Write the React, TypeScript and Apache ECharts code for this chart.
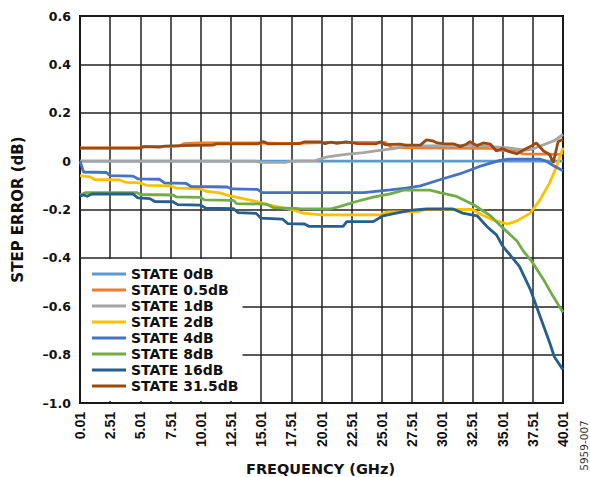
import React, { useEffect, useRef } from "react";
import * as echarts from "echarts";

// Step error vs frequency, one [GHz, dB] list per attenuation state
const STATE_0dB: [number, number][] = [
  [0.01, 0], [10, 0], [20, 0], [30, 0], [40.01, 0],
];
const STATE_05dB: [number, number][] = [
  [0.01, 0.055], [5, 0.055], [5.3, 0.06], [8.2, 0.062], [8.6, 0.072], [10, 0.075],
  [15, 0.075], [17, 0.072], [20, 0.077], [25.3, 0.077], [25.8, 0.056], [30, 0.054],
  [34.2, 0.053], [34.8, 0.045], [36.2, 0.042], [36.7, 0.03], [39.8, 0.028], [40.01, 0.035],
];
const STATE_1dB: [number, number][] = [
  [0.01, 0], [14.5, 0], [15, -0.005], [17, -0.005], [17.5, 0], [19.5, 0.002],
  [20.5, 0.018], [22, 0.028], [23.5, 0.035], [24.5, 0.042], [26, 0.052], [27, 0.062],
  [33, 0.066], [34, 0.06], [35.5, 0.055], [36.8, 0.045], [37.5, 0.05], [38.5, 0.07],
  [39.3, 0.085], [40.01, 0.11],
];
const STATE_2dB: [number, number][] = [
  [0.01, -0.06], [0.8, -0.065], [1.2, -0.076], [3.3, -0.078], [3.8, -0.088], [5, -0.09],
  [5.5, -0.1], [7.5, -0.102], [8, -0.112], [10, -0.115], [10.5, -0.125], [11.5, -0.13],
  [12.5, -0.145], [13.5, -0.155], [14.5, -0.165], [15.5, -0.18], [16.5, -0.19],
  [17.5, -0.2], [18.5, -0.215], [20, -0.222], [24.9, -0.222], [25.5, -0.21], [28, -0.21],
  [28.6, -0.2], [32.5, -0.2], [33.2, -0.22], [34.2, -0.243], [35.4, -0.26], [36.2, -0.247],
  [37.3, -0.215], [38.1, -0.16], [38.9, -0.09], [39.5, -0.02], [40.01, 0.055],
];
const STATE_4dB: [number, number][] = [
  [0.01, 0], [0.3, -0.045], [2.2, -0.047], [2.5, -0.06], [4.4, -0.062], [4.8, -0.073],
  [6.6, -0.075], [7, -0.09], [8.8, -0.092], [9.2, -0.105], [12.2, -0.107], [12.6, -0.115],
  [14.7, -0.117], [15.1, -0.13], [23.5, -0.13], [24.5, -0.125], [25.7, -0.119],
  [27, -0.112], [28.2, -0.102], [29.8, -0.077], [31.5, -0.052], [33.1, -0.022],
  [34.8, 0.003], [35.5, 0.008], [38.1, 0.008], [38.6, 0], [39.2, -0.018], [40.01, -0.04],
];
const STATE_8dB: [number, number][] = [
  [0.01, -0.14], [0.5, -0.13], [4.7, -0.13], [5, -0.138], [7.7, -0.14], [8, -0.148],
  [10, -0.15], [10.3, -0.16], [12.7, -0.162], [13, -0.176], [15.5, -0.178], [16, -0.192],
  [18.2, -0.196], [20.7, -0.198], [21.5, -0.188], [22.9, -0.167], [24.3, -0.149],
  [25.7, -0.135], [26.8, -0.12], [29, -0.12], [29.8, -0.13], [31.2, -0.146], [32.6, -0.18],
  [34, -0.226], [35, -0.275], [36.2, -0.33], [36.7, -0.37], [37.5, -0.42], [38.4, -0.49],
  [39.2, -0.56], [40.01, -0.625],
];
const STATE_16dB: [number, number][] = [
  [0.01, -0.145], [0.3, -0.14], [0.6, -0.145], [1, -0.136], [4.4, -0.136], [4.8, -0.152],
  [5.8, -0.155], [6.2, -0.167], [7.7, -0.168], [8.1, -0.18], [10, -0.182], [10.4, -0.194],
  [12.7, -0.196], [13.1, -0.213], [14.6, -0.216], [15, -0.236], [16.8, -0.24],
  [17.2, -0.258], [18.6, -0.26], [19, -0.27], [21.8, -0.27], [22.1, -0.25], [24.3, -0.25],
  [25.1, -0.226], [26.5, -0.212], [27.3, -0.204], [28.7, -0.198], [30.9, -0.198],
  [31.7, -0.215], [32.9, -0.226], [33.7, -0.27], [34.5, -0.305], [35, -0.35],
  [36.4, -0.435], [37.3, -0.53], [38.1, -0.64], [38.9, -0.75], [39.3, -0.81], [40.01, -0.862],
];
const STATE_315dB: [number, number][] = [
  [0.01, 0.054], [5, 0.054], [5.3, 0.06], [6.6, 0.058], [7, 0.062], [8.3, 0.064],
  [11, 0.066], [11.3, 0.071], [14.7, 0.071], [15.2, 0.081], [15.6, 0.071], [18.2, 0.072],
  [18.6, 0.08], [19.9, 0.08], [20.3, 0.072], [20.8, 0.079], [21.3, 0.073], [22, 0.08],
  [22.5, 0.076], [23, 0.072], [24.5, 0.071], [24.9, 0.08], [25.3, 0.068], [26.5, 0.07],
  [27, 0.066], [28.2, 0.066], [28.7, 0.088], [29.2, 0.084], [29.6, 0.075], [30.1, 0.072],
  [31, 0.071], [31.5, 0.06], [32, 0.07], [32.3, 0.08], [32.9, 0.064], [33.4, 0.075],
  [34, 0.07], [34.5, 0.042], [35, 0.052], [35.5, 0.04], [36.2, 0.03], [36.7, 0.045],
  [37.3, 0.06], [37.8, 0.075], [38.4, 0.042], [38.9, 0.028], [39.2, -0.008], [39.6, 0.08],
  [40.01, 0.09],
];

const SERIES_NAMES = [
  "STATE 0dB", "STATE 0.5dB", "STATE 1dB", "STATE 2dB",
  "STATE 4dB", "STATE 8dB", "STATE 16dB", "STATE 31.5dB",
];
const SERIES_DATA = [
  STATE_0dB, STATE_05dB, STATE_1dB, STATE_2dB,
  STATE_4dB, STATE_8dB, STATE_16dB, STATE_315dB,
];
const SERIES_COLORS = [
  "#5B9BD5", "#ED7D31", "#A5A5A5", "#FFC000",
  "#4472C4", "#70AD47", "#255E91", "#9E480E",
];

const FREQ_MIN = 0.01;
const FREQ_MAX = 40.01;
const FREQ_STEP = 2.5;
const ERR_MIN = -1.0;
const ERR_MAX = 0.6;
const ERR_STEP = 0.2;

const WIDE_FONT = "'DejaVu Sans', sans-serif";
const ARIAL_FONT = "'Liberation Sans', Arial, sans-serif";

export default function App() {
  const ref = useRef<HTMLDivElement>(null);

  useEffect(() => {
    document.body.style.margin = "0";
    if (!ref.current) return;
    const chart = echarts.init(ref.current, undefined, { renderer: "svg" });

    chart.setOption({
      animation: false,
      grid: {
        left: 80,
        right: 27,
        top: 16,
        bottom: 74,
        show: true,
        borderColor: "#000",
        borderWidth: 2,
        backgroundColor: "transparent",
      },
      xAxis: {
        type: "value",
        min: FREQ_MIN,
        max: FREQ_MAX,
        interval: FREQ_STEP,
        axisLine: { show: false },
        axisTick: { show: false },
        splitLine: { show: true, lineStyle: { color: "#222", width: 1.5 } },
        axisLabel: {
          rotate: 90,
          margin: 9,
          fontFamily: ARIAL_FONT,
          fontWeight: "bold",
          fontSize: 14,
          color: "#111",
          formatter: (v: number) => v.toFixed(2),
        },
      },
      yAxis: {
        type: "value",
        min: ERR_MIN,
        max: ERR_MAX,
        interval: ERR_STEP,
        axisLine: { show: false },
        axisTick: { show: false },
        splitLine: { show: true, lineStyle: { color: "#222", width: 1.5 } },
        axisLabel: {
          margin: 9,
          fontFamily: WIDE_FONT,
          fontWeight: "bold",
          fontSize: 12.5,
          color: "#111",
          formatter: (v: number) =>
            Math.abs(v) < 1e-9 ? "0" : v.toFixed(1).replace("-", "\u2013"),
        },
      },
      legend: {
        orient: "vertical",
        left: 81,
        top: 259,
        padding: [7, 4, 7, 11],
        itemGap: 0,
        itemWidth: 34,
        itemHeight: 3,
        icon: "rect",
        backgroundColor: "#fff",
        selectedMode: false,
        data: SERIES_NAMES,
        textStyle: {
          fontFamily: WIDE_FONT,
          fontWeight: "bold",
          fontSize: 14,
          lineHeight: 16,
          color: "#111",
        },
      },
      graphic: [
        {
          type: "text",
          x: 18,
          y: 209.5,
          rotation: Math.PI / 2,
          style: {
            text: "STEP ERROR (dB)",
            fontFamily: WIDE_FONT,
            fontWeight: "bold",
            fontSize: 15,
            fill: "#111",
            textAlign: "center",
            textVerticalAlign: "middle",
          },
        },
        {
          type: "text",
          x: 320.5,
          y: 468.5,
          style: {
            text: "FREQUENCY (GHz)",
            fontFamily: WIDE_FONT,
            fontWeight: "bold",
            fontSize: 14.5,
            fill: "#111",
            textAlign: "center",
            textVerticalAlign: "middle",
          },
        },
        {
          type: "text",
          x: 584,
          y: 445.5,
          rotation: Math.PI / 2,
          style: {
            text: "5959-007",
            fontFamily: WIDE_FONT,
            fontSize: 10.5,
            fill: "#333",
            textAlign: "center",
            textVerticalAlign: "middle",
          },
        },
      ],
      series: SERIES_NAMES.map((name, i) => ({
        name,
        type: "line",
        data: SERIES_DATA[i],
        showSymbol: false,
        symbol: "none",
        color: SERIES_COLORS[i],
        lineStyle: { color: SERIES_COLORS[i], width: 2.8 },
        z: 2 + i * 0.01,
      })),
    });

    return () => chart.dispose();
  }, []);

  return <div ref={ref} style={{ width: 590, height: 477 }} />;
}
